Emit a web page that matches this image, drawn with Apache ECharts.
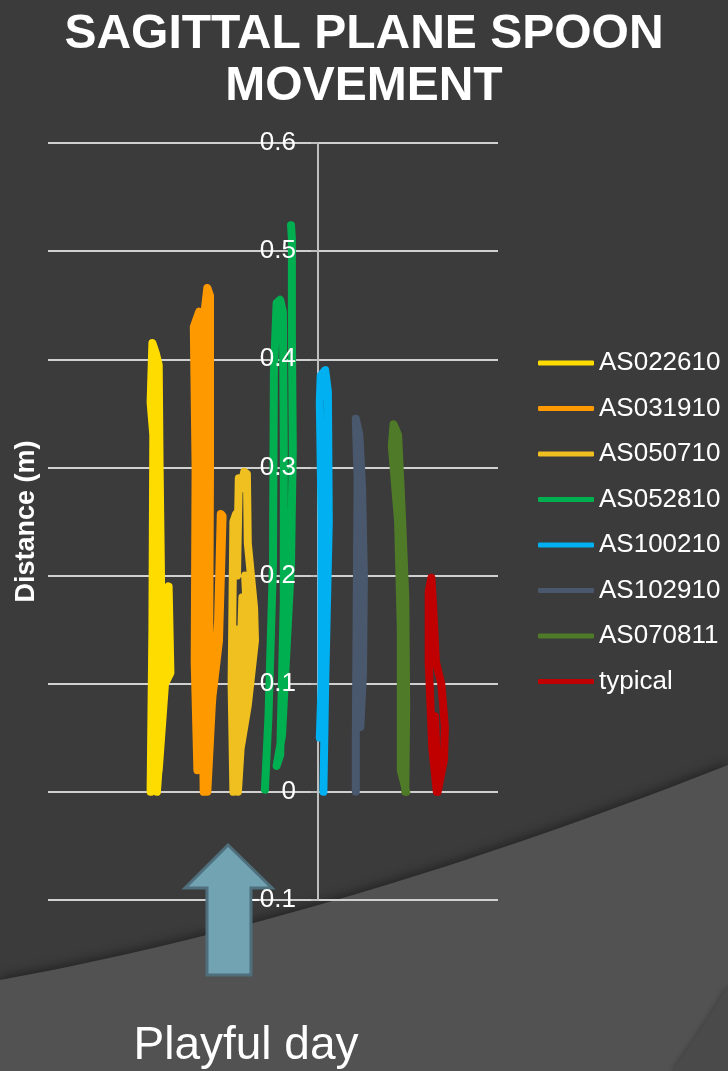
<!DOCTYPE html>
<html>
<head>
<meta charset="utf-8">
<title>Sagittal plane spoon movement</title>
<script src="https://cdn.jsdelivr.net/npm/echarts@6/dist/echarts.min.js"></script>
<style>
  html, body { margin: 0; padding: 0; background: #3b3b3b; }
  #main { width: 728px; height: 1071px; }
</style>
</head>
<body>
<div id="main"></div>
<script>
// traces: [horizontal position (m), distance (m)]
const AS022610 = [[-0.186,0],[-0.184,0.15],[-0.183,0.33],[-0.186,0.36],[-0.184,0.415],[-0.180,0.405],[-0.177,0.395],[-0.176,0.30],[-0.174,0.17],[-0.179,0],[-0.173,0.07],[-0.169,0.17],[-0.166,0.19],[-0.164,0.11],[-0.170,0.10],[-0.177,0.02],[-0.175,0.10],[-0.180,0.25],[-0.181,0.38]];
const AS031910 = [[-0.134,0.02],[-0.137,0.12],[-0.136,0.30],[-0.138,0.43],[-0.132,0.444],[-0.130,0.30],[-0.129,0.12],[-0.127,0],[-0.124,0.15],[-0.126,0.35],[-0.127,0.437],[-0.123,0.466],[-0.120,0.459],[-0.120,0.30],[-0.121,0.12],[-0.123,0],[-0.118,0.08],[-0.111,0.158],[-0.108,0.257],[-0.106,0.255],[-0.110,0.14],[-0.117,0.09]];
const AS050710 = [[-0.094,0],[-0.096,0.10],[-0.094,0.25],[-0.091,0.257],[-0.090,0.20],[-0.088,0.29],[-0.086,0.28],[-0.082,0.296],[-0.079,0.294],[-0.078,0.23],[-0.071,0.17],[-0.070,0.14],[-0.078,0.08],[-0.086,0.04],[-0.089,0],[-0.087,0.10],[-0.084,0.18],[-0.078,0.15],[-0.082,0.08],[-0.075,0.10],[-0.081,0.20],[-0.073,0.18],[-0.071,0.14],[-0.083,0.12],[-0.091,0.15],[-0.091,0.05]];
const AS052810 = [[-0.059,0.002],[-0.055,0.07],[-0.050,0.211],[-0.049,0.388],[-0.046,0.452],[-0.042,0.455],[-0.039,0.444],[-0.038,0.317],[-0.038,0.176],[-0.042,0.034],[-0.046,0.024],[-0.040,0.052],[-0.030,0.211],[-0.028,0.317],[-0.029,0.423],[-0.029,0.512],[-0.030,0.524]];
const AS100210 = [[0.006,0],[0.008,0.10],[0.012,0.25],[0.011,0.37],[0.008,0.39],[0.003,0.385],[0.002,0.36],[0.004,0.25],[0.004,0.10],[0.002,0.05]];
const AS102910 = [[0.042,0],[0.042,0.05],[0.043,0.17],[0.044,0.29],[0.042,0.345],[0.046,0.33],[0.049,0.28],[0.051,0.20],[0.050,0.11],[0.047,0.06],[0.046,0.15],[0.049,0.25],[0.045,0.22],[0.047,0.10]];
const AS070811 = [[0.098,0],[0.092,0.02],[0.092,0.15],[0.089,0.25],[0.082,0.32],[0.084,0.34],[0.089,0.33],[0.093,0.26],[0.097,0.18],[0.098,0.08],[0.097,0]];
const typical = [[0.132,0],[0.127,0.04],[0.123,0.12],[0.123,0.185],[0.126,0.198],[0.128,0.17],[0.131,0.12],[0.137,0.10],[0.141,0.06],[0.140,0.03],[0.133,0],[0.130,0.07]];

const seriesNames = ['AS022610', 'AS031910', 'AS050710', 'AS052810', 'AS100210', 'AS102910', 'AS070811', 'typical'];
const seriesData = [AS022610, AS031910, AS050710, AS052810, AS100210, AS102910, AS070811, typical];
const yMin = -0.1, yMax = 0.6, yStep = 0.1;
const xMin = -0.3, xMax = 0.2;

const colors = ['#ffdc00', '#ff9900', '#f0c020', '#00b050', '#00b0f0', '#4a586e', '#4f7a28', '#c00000'];
const font = "'Liberation Sans', Arial, sans-serif";

// slide background: quadratic curve between the dark and the light area
function curve(p0, c, p1, tail) {
  const pts = [];
  for (let i = 0; i <= 40; i++) {
    const t = i / 40, u = 1 - t;
    pts.push([u * u * p0[0] + 2 * u * t * c[0] + t * t * p1[0], u * u * p0[1] + 2 * u * t * c[1] + t * t * p1[1]]);
  }
  return pts.concat(tail);
}

const gridLeft = 48, gridWidth = 450;
// vertical axis crosses the horizontal one at x = 0
const axisShift = gridWidth * (0 - xMin) / (xMax - xMin);

const yBase = {
  type: 'value',
  position: 'left',
  offset: -axisShift,
  min: yMin,
  max: yMax,
  interval: yStep
};

const chart = echarts.init(document.getElementById('main'));

chart.setOption({
  backgroundColor: '#3b3b3b',
  animation: false,
  color: colors,
  title: {
    text: 'SAGITTAL PLANE SPOON\nMOVEMENT',
    left: 'center',
    top: 9,
    padding: 0,
    textStyle: { color: '#ffffff', fontSize: 48, fontWeight: 'bold', lineHeight: 52, fontFamily: font }
  },
  legend: {
    orient: 'vertical',
    left: 533,
    top: 345,
    icon: 'roundRect',
    itemWidth: 56,
    itemHeight: 5,
    itemGap: 19.5,
    data: seriesNames,
    textStyle: { color: '#ffffff', fontSize: 26, lineHeight: 26, fontFamily: font }
  },
  grid: { left: gridLeft, width: gridWidth, top: 143, bottom: 171, containLabel: false, outerBoundsMode: 'none' },
  xAxis: { type: 'value', min: xMin, max: xMax, show: false },
  yAxis: [
    // line, ticks and grid lines, below the traces
    Object.assign({}, yBase, {
      name: 'Distance (m)',
      nameLocation: 'middle',
      nameGap: 278,
      nameTextStyle: { color: '#ffffff', fontSize: 27, fontWeight: 'bold', fontFamily: font },
      axisLine: { show: true, onZero: false, lineStyle: { color: '#bfbfbf', width: 2 } },
      axisTick: { show: true, length: 7, lineStyle: { color: '#bfbfbf', width: 2 } },
      axisLabel: { show: false },
      splitLine: { show: true, lineStyle: { color: '#d0d0d0', width: 2 } }
    }),
    // tick labels, drawn over the traces
    Object.assign({}, yBase, {
      z: 10,
      axisLine: { show: false, onZero: false },
      axisTick: { show: false },
      splitLine: { show: false },
      axisLabel: {
        color: '#ffffff', fontSize: 26, margin: 22, fontFamily: font,
        formatter: v => String(Math.round(v * 10) / 10)
      }
    })
  ],
  series: seriesData.map((d, i) => ({
    name: seriesNames[i],
    type: 'line',
    data: d,
    yAxisIndex: 0,
    showSymbol: false,
    symbol: 'none',
    z: 3,
    lineStyle: { width: 8, cap: 'round', join: 'round' },
    emphasis: { disabled: true }
  })),
  graphic: [
    {
      type: 'polygon', z: -10, silent: true,
      shape: { points: curve([0, 980], [340, 918], [728, 765], [[728, 1071], [0, 1071]]) },
      style: { fill: '#525252', shadowBlur: 12, shadowOffsetY: -2, shadowColor: 'rgba(0,0,0,0.45)' }
    },
    {
      type: 'polygon', z: -9, silent: true,
      shape: { points: curve([728, 985], [702, 1030], [672, 1071], [[728, 1071]]) },
      style: { fill: '#4a4a4a', shadowBlur: 6, shadowColor: 'rgba(0,0,0,0.3)' }
    },
    {
      type: 'polygon', z: 1, silent: true,
      shape: { points: [[228, 845], [272, 888], [251, 888], [251, 975], [207, 975], [207, 888], [185, 888]] },
      style: { fill: '#72a3b2', stroke: '#4f6f7c', lineWidth: 3 }
    },
    {
      type: 'text', z: 5, silent: true,
      style: {
        x: 246, y: 1046, text: 'Playful day', fill: '#ffffff',
        font: '46px ' + font, textAlign: 'center', textVerticalAlign: 'middle'
      }
    }
  ]
});
</script>
</body>
</html>
